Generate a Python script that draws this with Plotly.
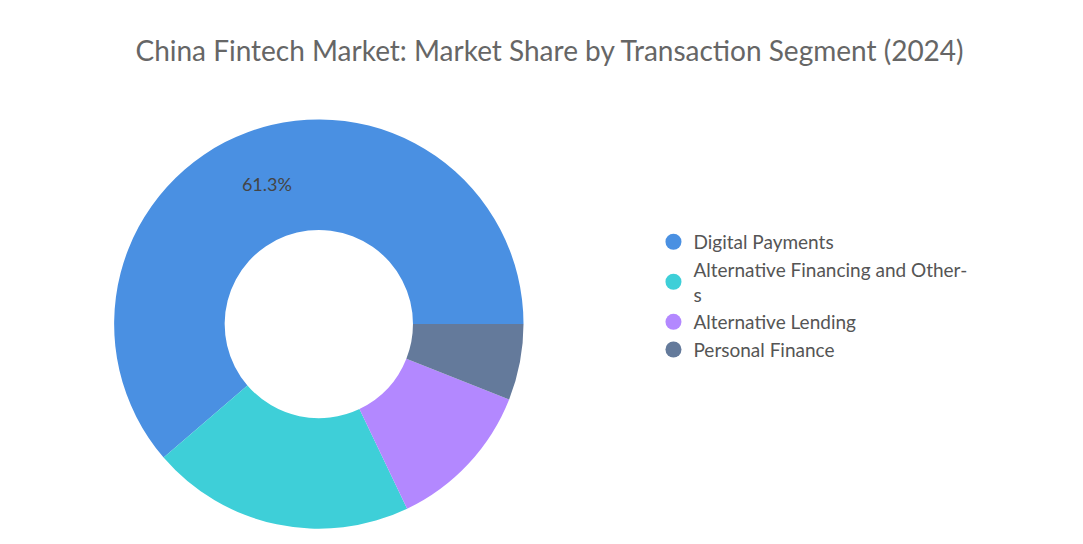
import plotly.graph_objects as go

labels = ["Digital Payments", "Alternative Financing and Other-<br>s",
          "Alternative Lending", "Personal Finance"]
values = [61.3, 20.8, 11.9, 6.0]
colors = ["#4A90E2", "#3ECFD8", "#B388FF", "#647A9B"]
shown = ["61.3%", "", "", ""]

# counterclockwise pies end the first slice at `rotation`; start it at 3 o'clock
first_angle = values[0] / sum(values) * 360
rotation = 90 - first_angle

fig = go.Figure()
fig.add_trace(
    go.Pie(
        labels=labels,
        values=values,
        text=shown,
        textinfo="text",
        textposition="inside",
        insidetextorientation="horizontal",
        textfont=dict(size=18, color="#444444"),
        hole=0.46,
        sort=False,
        direction="counterclockwise",
        rotation=rotation,
        marker=dict(colors=colors),
        domain=dict(x=[0.098, 0.476], y=[0.042, 0.796]),
        showlegend=False,
    )
)
# circle legend markers
for name, c in zip(labels, colors):
    fig.add_trace(
        go.Scatter(x=[None], y=[None], mode="markers", name=name,
                   marker=dict(symbol="circle", size=22, color=c))
    )
fig.update_xaxes(visible=False)
fig.update_yaxes(visible=False)
fig.update_layout(
    width=1083,
    height=544,
    paper_bgcolor="white",
    plot_bgcolor="white",
    font=dict(family="Lato, sans-serif", color="#555555"),
    title=dict(
        text="China Fintech Market: Market Share by Transaction Segment (2024)",
        x=0.5, xanchor="center", y=0.92, yanchor="middle",
        font=dict(size=28, color="#666666"),
    ),
    legend=dict(x=0.596, y=0.605, xanchor="left", yanchor="top",
                font=dict(size=19, color="#555555"), itemsizing="trace",
                tracegroupgap=4),
    margin=dict(l=0, r=0, t=0, b=0),
)
fig.write_html("out.html")
